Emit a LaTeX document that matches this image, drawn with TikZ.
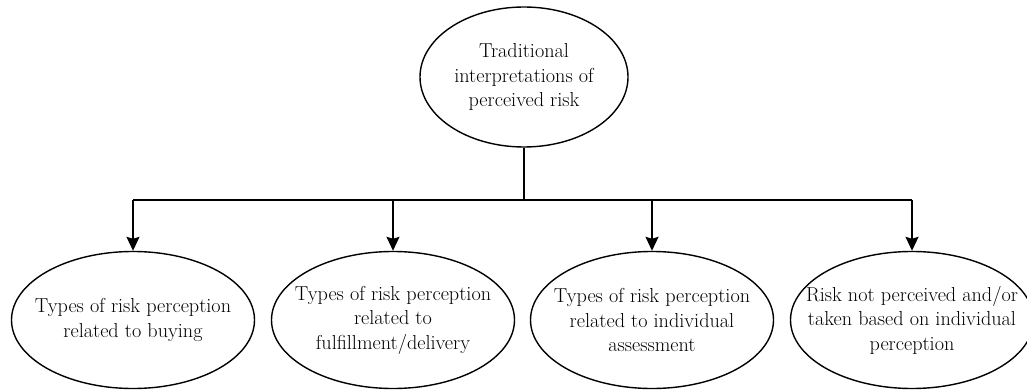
\documentclass[tikz,border=0pt]{standalone}
\usepackage{fontspec}
\setmainfont{Latin Modern Roman}
\usetikzlibrary{shapes.geometric,arrows.meta}
\begin{document}
\begin{tikzpicture}[x=1pt,y=-1pt,
  bubble/.style={draw, ellipse, line width=1.4pt, inner sep=0pt},
  topbubble/.style={bubble, minimum width=208pt, minimum height=140pt},
  leaf/.style={bubble, minimum width=243pt, minimum height=137pt},
  caption/.style={inner sep=0pt, align=center,
    font=\fontsize{20.2}{24.5}\selectfont},
  wire/.style={line width=1.6pt},
  arr/.style={wire, -{Stealth[length=14pt,width=13pt,inset=2pt]}}]
  \useasboundingbox (0,0) rectangle (1027,390);

  % outlines
  \node[topbubble] (top) at (524,77) {};
  \node[leaf] (b1) at (133,320) {};
  \node[leaf] (b2) at (393,320) {};
  \node[leaf] (b3) at (652,320) {};
  \node[leaf] (b4) at (912,320) {};

  % texts
  \node[caption] (topt) at (top) {Traditional\\interpretations of\\perceived risk};
  \node[caption] (b1t) at (b1) {Types of risk perception\\related to buying};
  \node[caption] (b2t) at (b2) {Types of risk perception\\related to\\fulfillment/delivery};
  \node[caption] (b3t) at (b3) {Types of risk perception\\related to individual\\assessment};
  \node[caption] (b4t) at (b4) {Risk not perceived and/or\\taken based on individual\\perception};

  % connectors
  \coordinate (bus) at (524,200);
  \draw[wire] (top.south) -- (bus);
  \draw[wire] (b1.north |- bus) -- (b4.north |- bus);
  \foreach \b in {b1,b2,b3,b4}
    \draw[arr] (\b.north |- bus) -- (\b.north);
\end{tikzpicture}
\end{document}
